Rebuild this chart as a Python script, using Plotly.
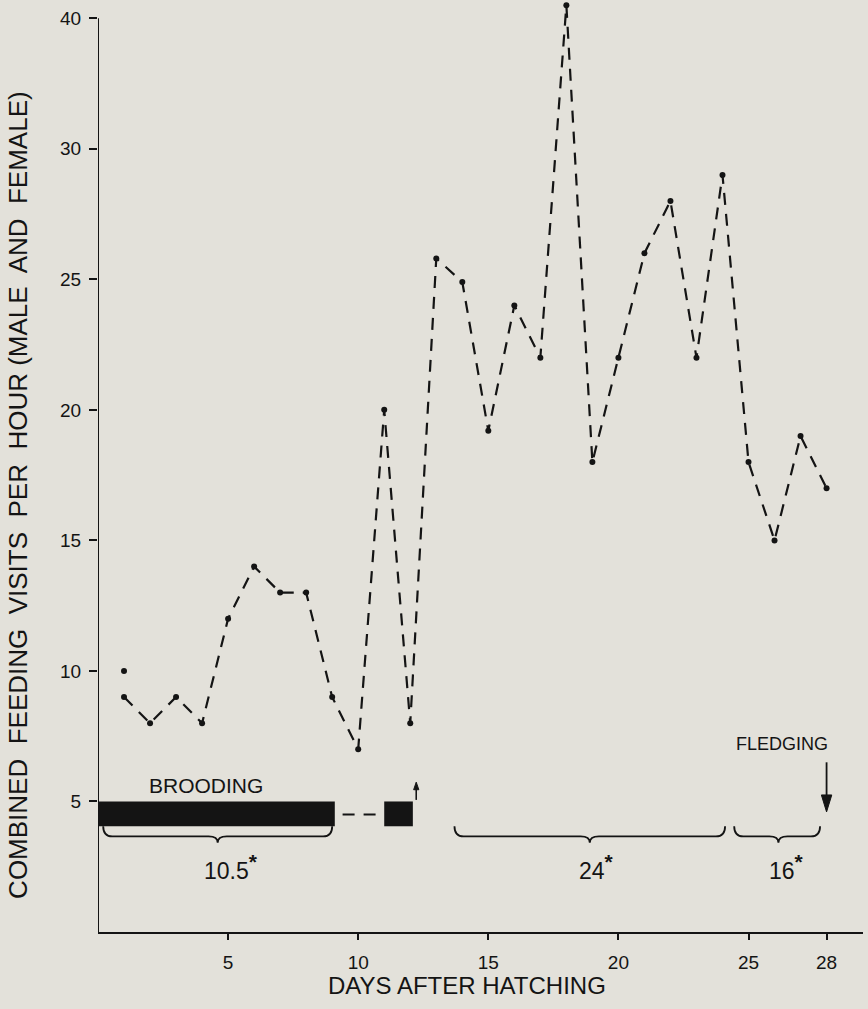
import plotly.graph_objects as go

# ---- data ----
days = list(range(1, 29))
visits = [9, 8, 9, 8, 12, 14, 13, 13, 9, 7, 20, 8, 25.8, 24.9, 19.2, 24, 22, 41,
          18, 22, 26, 28, 22, 29, 18, 15, 19, 17]
extra_day = [1]
extra_visits = [10]
y_ticks = [5, 10, 15, 20, 25, 30, 40]
x_ticks = [5, 10, 15, 20, 25, 28]
brooding_spans = [(0, 9.1), (11.0, 12.1)]
brace_spans = [(0.2, 9.0, 4.6), (13.7, 24.1, 18.9), (24.45, 27.75, 26.15)]
brace_labels = ["10.5", "24", "16"]
brace_label_x = [5.1, 19.15, 26.45]

INK = "#141414"
BG = "#e3e1da"
FONT = "Liberation Sans"


def ymap(v):
    # broken scale: above 30 the axis is compressed by half (40 sits where 35 would)
    return v if v <= 30 else 30 + (v - 30) / 2


fig = go.Figure()
fig.add_trace(go.Scatter(
    x=days, y=[ymap(v) for v in visits], mode="lines+markers",
    line=dict(color=INK, width=2.2, dash="12px,9px"),
    marker=dict(color=INK, size=6), cliponaxis=False, showlegend=False))
fig.add_trace(go.Scatter(
    x=extra_day, y=[ymap(v) for v in extra_visits], mode="markers",
    marker=dict(color=INK, size=6), showlegend=False))

shapes = []
# y axis line (only up to the top tick)
shapes.append(dict(type="line", xref="x", yref="y", x0=0, x1=0, y0=0, y1=ymap(40),
                   line=dict(color=INK, width=2)))
# brooding bars
for x0, x1 in brooding_spans:
    shapes.append(dict(type="rect", xref="x", yref="y", x0=x0, x1=x1, y0=4.05, y1=5.0,
                       fillcolor=INK, line=dict(width=0)))
shapes.append(dict(type="line", xref="x", yref="y", x0=9.4, x1=10.8, y0=4.5, y1=4.5,
                   line=dict(color=INK, width=2, dash="12px,9px")))
# braces
for x0, x1, xm in brace_spans:
    yt, yh, yb = 4.05, 3.66, 3.42
    r = 0.35
    p = (f"M {x0},{yt} Q {x0},{yh} {x0 + r},{yh} L {xm - r},{yh} "
         f"Q {xm},{yh} {xm},{yb} Q {xm},{yh} {xm + r},{yh} "
         f"L {x1 - r},{yh} Q {x1},{yh} {x1},{yt}")
    shapes.append(dict(type="path", xref="x", yref="y", path=p,
                       line=dict(color=INK, width=1.8)))

# fledging arrow (pointing down at day 28)
shapes.append(dict(type="line", xref="x", yref="y", x0=28, x1=28, y0=6.5, y1=5.1,
                   line=dict(color=INK, width=1.8)))
shapes.append(dict(type="path", xref="x", yref="y",
                   path="M 27.8,5.25 L 28.2,5.25 L 28,4.6 Z",
                   fillcolor=INK, line=dict(color=INK, width=1)))
# small up arrow after the second brooding bar
shapes.append(dict(type="line", xref="x", yref="y", x0=12.23, x1=12.23, y0=5.06, y1=5.5,
                   line=dict(color=INK, width=1.6)))
shapes.append(dict(type="path", xref="x", yref="y",
                   path="M 12.13,5.45 L 12.33,5.45 L 12.23,5.74 Z",
                   fillcolor=INK, line=dict(color=INK, width=1)))

annotations = []
for lbl, lx in zip(brace_labels, brace_label_x):
    annotations.append(dict(x=lx, y=2.5, xref="x", yref="y", showarrow=False,
                            text=f"{lbl}<sup><b><span style='font-size:21px'>*</span></b></sup>",
                            font=dict(family=FONT, size=23, color=INK)))
annotations.append(dict(x=4.15, y=5.6, xref="x", yref="y", showarrow=False,
                        text="BROODING", font=dict(family=FONT, size=21, color=INK)))
annotations.append(dict(x=26.3, y=7.2, xref="x", yref="y", showarrow=False,
                        text="FLEDGING", font=dict(family=FONT, size=18, color=INK)))
annotations.append(dict(x=14.2, y=0, xref="x", yref="paper", yshift=-53, showarrow=False,
                        text="DAYS AFTER HATCHING", yanchor="middle",
                        font=dict(family=FONT, size=24, color=INK)))
annotations.append(dict(x=0, y=0.469, xref="paper", yref="paper", xshift=-80, showarrow=False,
                        textangle=-90, xanchor="center", yanchor="middle",
                        text="COMBINED  FEEDING  VISITS  PER  HOUR (MALE  AND  FEMALE)",
                        font=dict(family=FONT, size=26, color=INK)))

fig.update_layout(
    width=868, height=1009,
    margin=dict(l=98, r=5, t=0, b=77),
    paper_bgcolor=BG, plot_bgcolor=BG,
    shapes=shapes, annotations=annotations,
    xaxis=dict(range=[0, 29.4], tickvals=x_ticks, ticktext=[str(t) for t in x_ticks],
               showgrid=False, zeroline=False, showline=True, linecolor=INK, linewidth=2,
               ticks="outside", ticklen=6, tickwidth=1.5, tickcolor=INK,
               ticklabelstandoff=6,
               tickfont=dict(family=FONT, size=19, color=INK)),
    yaxis=dict(range=[0, 35.7], tickvals=[ymap(v) for v in y_ticks],
               ticktext=[str(v) for v in y_ticks],
               showgrid=False, zeroline=False, showline=False,
               ticks="outside", ticklen=8, tickwidth=1.5, tickcolor=INK,
               ticklabelstandoff=4,
               tickfont=dict(family=FONT, size=19, color=INK)),
)

fig.write_html("out.html", config={"displayModeBar": False},
               post_script="document.body.style.margin='0';document.body.style.background='#e3e1da';")
